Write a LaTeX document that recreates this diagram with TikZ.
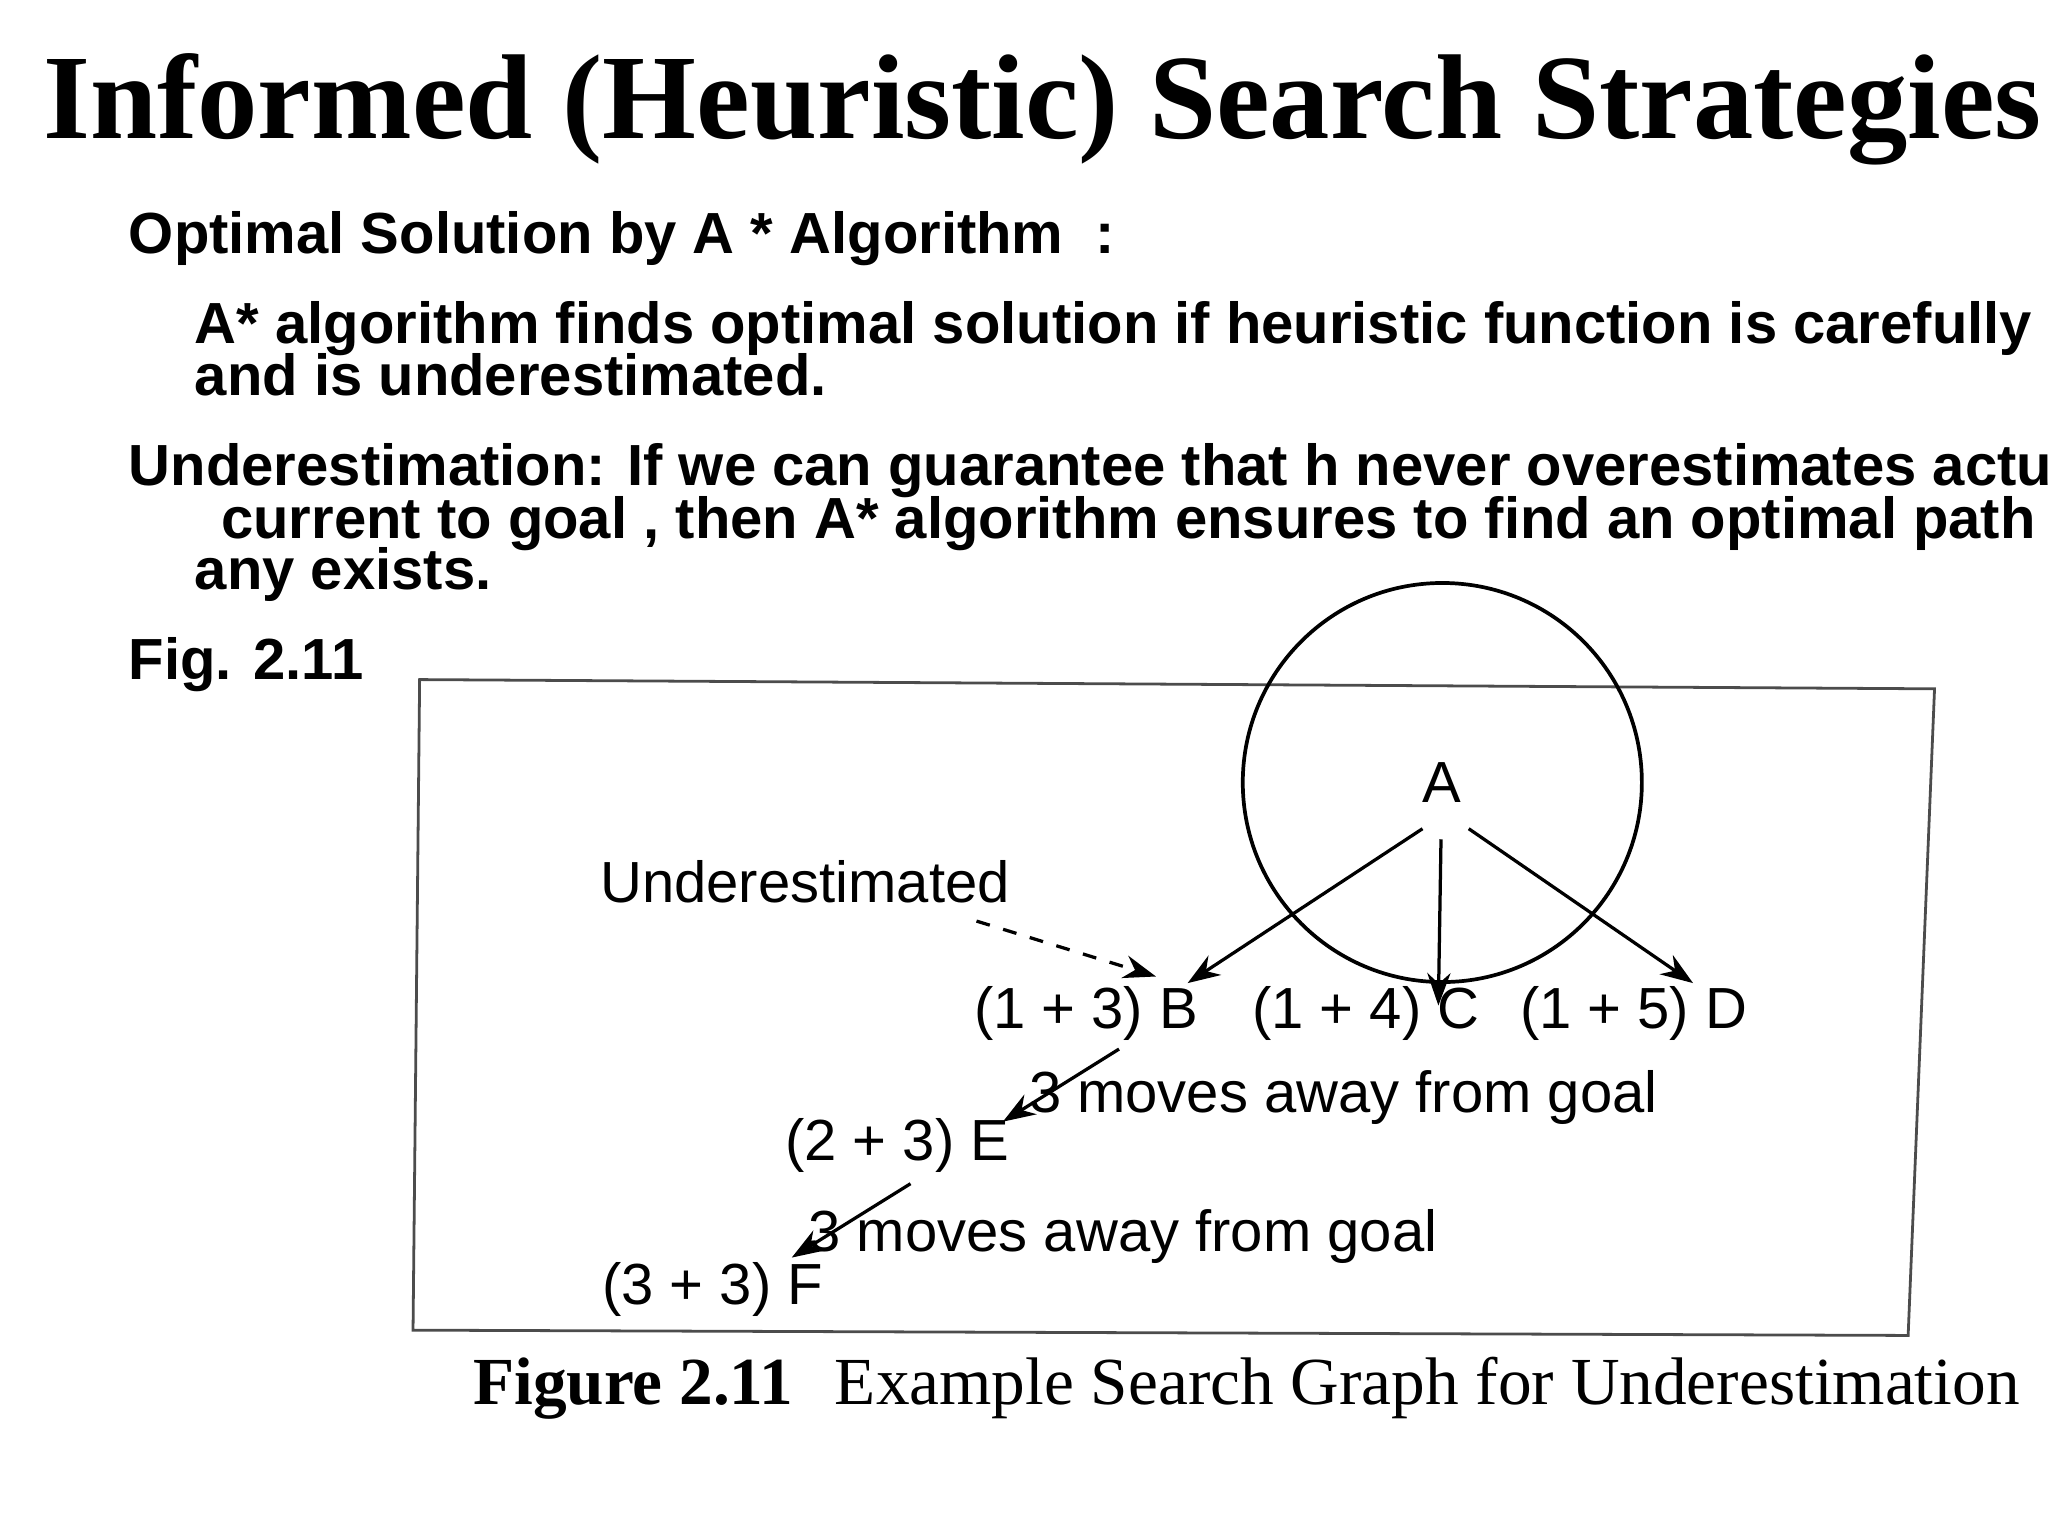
\documentclass[tikz,border=0pt]{standalone}
\usepackage{fontspec}
\usetikzlibrary{arrows.meta}
\setmainfont{Liberation Sans}
\newfontfamily\serif{Liberation Serif}
\begin{document}
\begin{tikzpicture}[x=0.01cm,y=-0.01cm,
  body/.style={anchor=base west,inner sep=0pt,font=\fontsize{12.5}{15}\selectfont\bfseries},
  fig/.style={inner sep=0pt,font=\fontsize{12.5}{15}\selectfont},
  arr/.style={-{Stealth[length=7pt,width=5pt]},line width=0.7pt}]
\useasboundingbox (0,0) rectangle (1552,1164);
\node[anchor=base,inner sep=0pt,font=\serif\fontsize{26}{30}\selectfont\bfseries] (title) at (790,105) {Informed (Heuristic) Search Strategies};
\node[body] (t1) at (97,192) {Optimal Solution by A * Algorithm\ \ :};
\node[body] (t2) at (147,260) {A* algorithm finds optimal solution if heuristic function is carefully designed};
\node[body] (t3) at (147,300) {and is underestimated.};
\node[body] (t4) at (97,368) {Underestimation: If we can guarantee that h never overestimates actual value from};
\node[body] (t5) at (167,408) {current to goal , then A* algorithm ensures to find an optimal path to a goal, if};
\node[body] (t6) at (147,447) {any exists.};
\node[body] (t7) at (97,515) {Fig. 2.11};
\draw[gray!60!black,line width=0.6pt] (318,515) -- (1466,522) -- (1446,1012) -- (313,1008) -- cycle;
\node[draw,circle,minimum size=86,line width=0.8pt,fig] (A) at (1093,593) {A};
\node[fig] (B) at (823,768) {(1 + 3) B};
\node[fig] (C) at (1035,768) {(1 + 4) C};
\node[fig] (D) at (1238,768) {(1 + 5) D};
\node[fig] (E) at (680,868) {(2 + 3) E};
\node[fig] (F) at (540,977) {(3 + 3) F};
\node[fig] (U) at (610,668) {Underestimated};
\node[fig] (m1) at (1018,832) {3 moves away from goal};
\node[fig] (m2) at (851,937) {3 moves away from goal};
\coordinate (a1) at (1078,628); \coordinate (b1) at (900,745);
\coordinate (a2) at (1092,636); \coordinate (c1) at (1090,762);
\coordinate (a3) at (1113,628); \coordinate (d1) at (1283,745);
\coordinate (u1) at (740,698); \coordinate (u2) at (876,740);
\coordinate (b2) at (848,795); \coordinate (e1) at (760,850);
\coordinate (e2) at (690,897); \coordinate (f1) at (600,953);
\draw[arr] (a1) -- (b1);
\draw[arr] (a2) -- (c1);
\draw[arr] (a3) -- (d1);
\draw[arr,dashed] (u1) -- (u2);
\draw[arr] (b2) -- (e1);
\draw[arr] (e2) -- (f1);
\node[anchor=base,inner sep=0pt,font=\serif\fontsize{14.5}{17}\selectfont\bfseries] (cap1) at (480,1064) {Figure 2.11};
\node[anchor=base west,inner sep=0pt,font=\serif\fontsize{14.5}{17}\selectfont] (cap2) at (632,1064) {Example Search Graph for Underestimation};
\end{tikzpicture}
\end{document}
